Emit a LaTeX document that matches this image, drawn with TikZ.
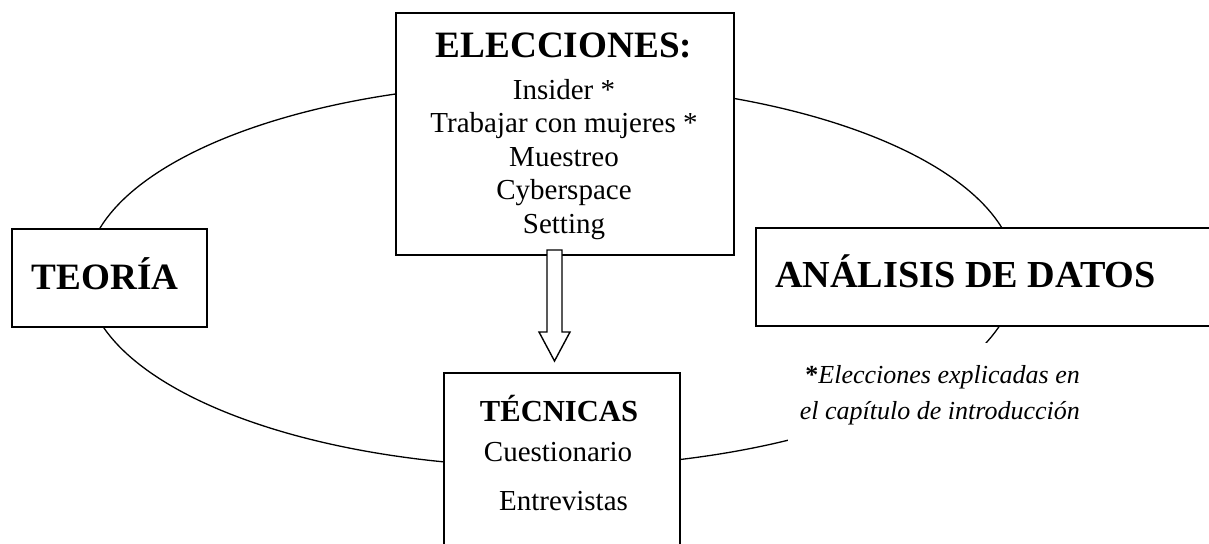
\documentclass[tikz,border=0pt]{standalone}
\usepackage{fontspec}
\setmainfont{Liberation Serif}
\usetikzlibrary{positioning}

\begin{document}
\begin{tikzpicture}[x=1pt, y=-1pt,
  box/.style={draw, line width=1.6pt, fill=white, inner sep=0pt, anchor=north west},
  head/.style={font=\fontsize{37.2}{44}\selectfont\bfseries, anchor=base, inner sep=0pt},
  item/.style={font=\fontsize{29}{33.5}\selectfont, anchor=base, align=center, inner sep=0pt},
  nota/.style={font=\fontsize{26}{35}\selectfont\itshape, anchor=base east, inner sep=0pt},
  flecha/.style={draw, line width=1.4pt, fill=white, line join=miter}]
\useasboundingbox (0,0) rectangle (1209,543);
\clip (0,0) rectangle (1209,543);
% ciclo
\draw[line width=1.3pt] (551,275) ellipse [x radius=465pt, y radius=192pt];
% cajas
\node[box, minimum width=338pt, minimum height=242pt] (elecc) at (395,12) {};
\node[box, minimum width=195pt, minimum height=98pt] (teoria) at (11,228) {};
\node[box, minimum width=480pt, minimum height=98pt] (analisis) at (755,227) {};
\node[box, minimum width=236pt, minimum height=200pt] (tecn) at (443,372) {};
% flecha hueca
\path[flecha] (547,250) -- (562,250) -- (562,332) -- (570,332) -- (554.5,361)
  -- (539,332) -- (547,332) -- cycle;
% textos
\node[head] (eleccT) at (564,57) {ELECCIONES:};
\node[item] (eleccL) at (564,233) {Insider *\\Trabajar con mujeres *\\Muestreo\\Cyberspace\\Setting};
\node[head] (teoriaT) at (105,289) {TEORÍA};
\node[head, anchor=base west, font=\fontsize{38.2}{44}\selectfont\bfseries] (analisisT) at (775,287) {ANÁLISIS DE DATOS};
\node[head, font=\fontsize{30.6}{36}\selectfont\bfseries] (tecnT) at (559,421) {TÉCNICAS};
\node[item] (tecnA) at (558,461) {Cuestionario};
\node[item] (tecnB) at (563.5,510) {Entrevistas};
% nota
\node[fill=white, inner sep=0pt, anchor=north west, minimum width=320pt, minimum height=105pt] (notaBg) at (788,343) {};
\node[nota] (notaA) at (1080,383) {{\upshape\bfseries *}Elecciones explicadas en};
\node[nota] (notaB) at (1080,419) {el capítulo de introducción};
\end{tikzpicture}
\end{document}
